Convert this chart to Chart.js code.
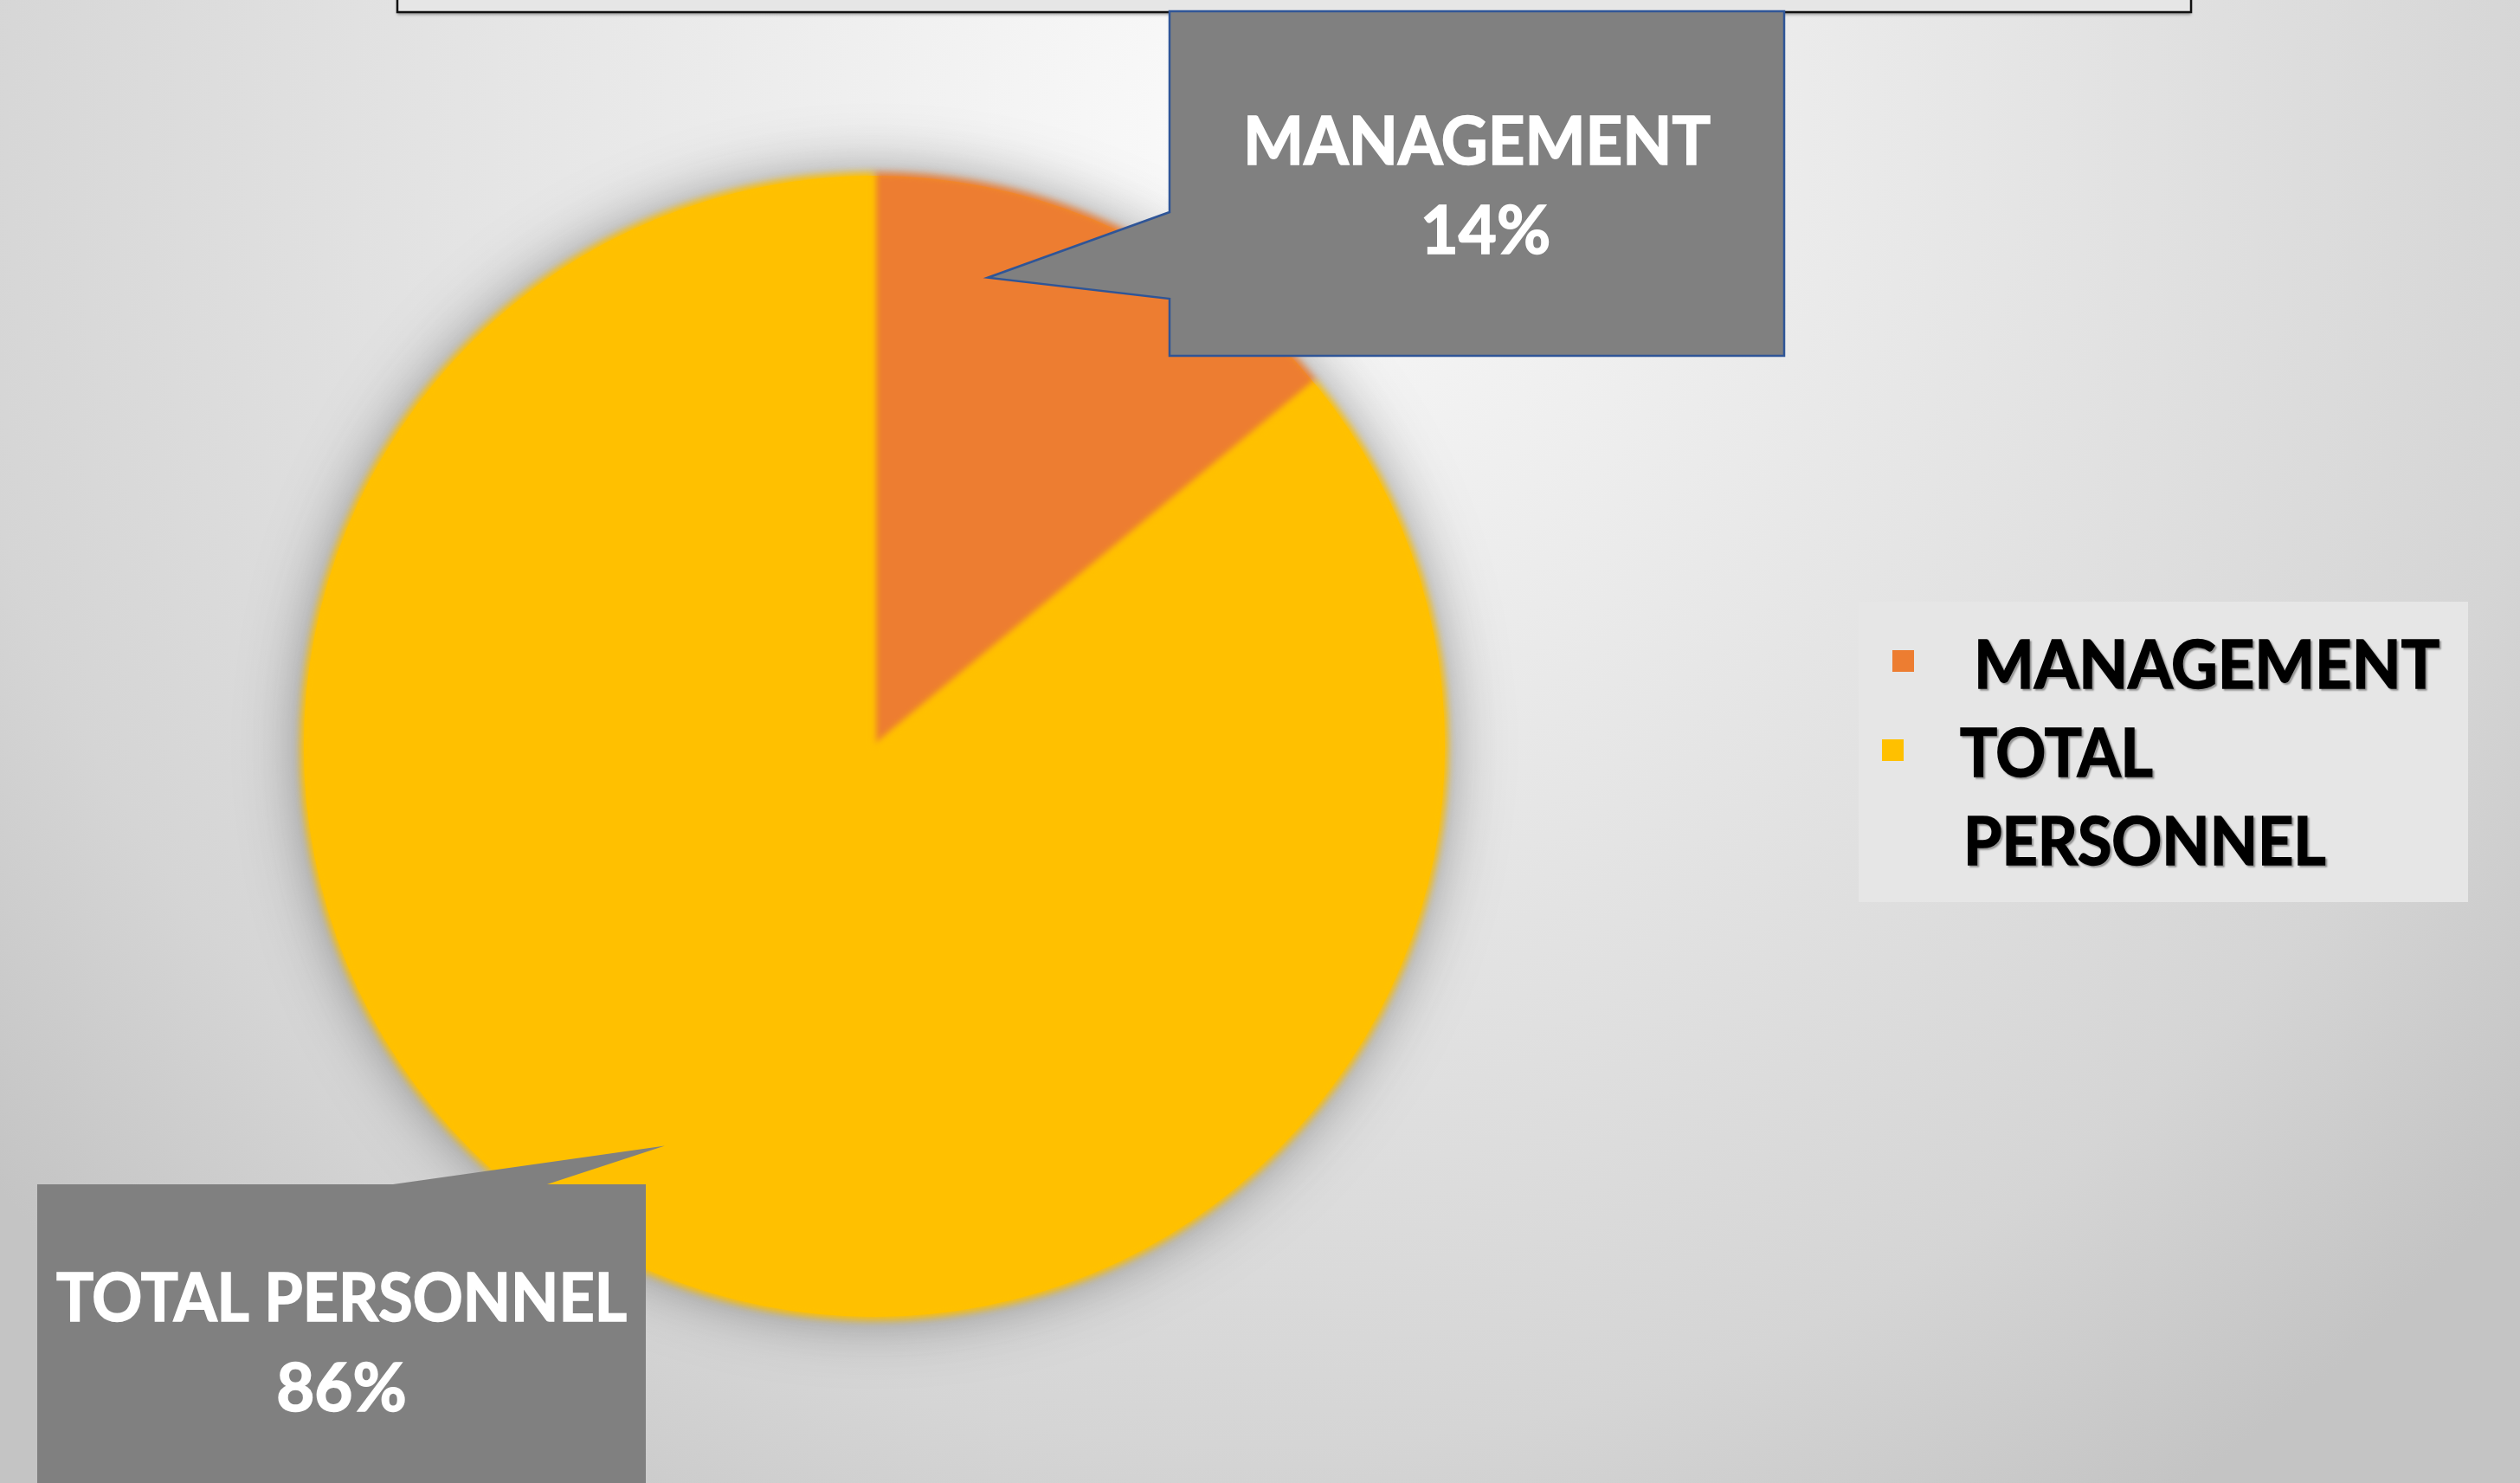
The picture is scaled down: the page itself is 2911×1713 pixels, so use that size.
<!DOCTYPE html>
<html>
<head>
<meta charset="utf-8">
<script src="https://cdn.jsdelivr.net/npm/chart.js@4.4.1/dist/chart.umd.min.js"></script>
<style>
  html, body { margin: 0; padding: 0; background: #d8d8d8; }
  #wrap { width: 2911px; height: 1713px; position: relative; }
</style>
</head>
<body>
<div id="wrap"><canvas id="pie"></canvas></div>
<script>
const labels = ['MANAGEMENT', 'TOTAL PERSONNEL'];
const shares = [14, 86];
const colors = ['#ED7D31', '#FFC000'];

const FONT = 'Lato, "Open Sans", sans-serif';

// callout boxes (layout only) and where on its slice each pointer lands
const callouts = [
    { box: [1351, 13, 2061, 411], base: ['left', 245, 345], angleFrac: 0.27, radFrac: 0.84, border: '#2F5597', lines: [177, 280], pctShift: 10, maxW: 540 },
    { box: [43, 1368, 746, 1760], base: ['top', 454, 632], angleFrac: 0.508, radFrac: 0.786, border: null, lines: [158, 262], pctShift: 0, maxW: 659 }
];

function heavyText(ctx, txt, x, y, maxW) {
    ctx.fillText(txt, x, y, maxW);
    ctx.lineWidth = 1.6;
    ctx.strokeStyle = ctx.fillStyle;
    ctx.strokeText(txt, x, y, maxW);
}

const background = {
    id: 'background',
    beforeDraw(chart) {
        const ctx = chart.ctx;
        const w = chart.width, h = chart.height;
        ctx.save();
        const g = ctx.createRadialGradient(1450, 150, 0, 1450, 150, 1900);
        g.addColorStop(0, '#fbfbfb');
        g.addColorStop(0.25, '#efefef');
        g.addColorStop(0.55, '#e1e1e1');
        g.addColorStop(0.8, '#d5d5d5');
        g.addColorStop(1, '#c4c4c4');
        ctx.fillStyle = g;
        ctx.fillRect(0, 0, w, h);

        // title frame cut off at the top
        ctx.shadowColor = 'rgba(0,0,0,0.35)';
        ctx.shadowOffsetY = 3;
        ctx.shadowBlur = 3;
        ctx.fillStyle = '#e6e6e6';
        ctx.fillRect(459, -10, 2072, 24);
        ctx.shadowColor = 'transparent';
        ctx.strokeStyle = '#111';
        ctx.lineWidth = 2.5;
        ctx.strokeRect(459, -10, 2072, 24);
        ctx.restore();
    }
};

const pieGlow = {
    id: 'pieGlow',
    beforeDatasetsDraw(chart) {
        const arc = chart.getDatasetMeta(0).data[0];
        if (!arc) return;
        const ctx = chart.ctx;
        ctx.save();
        ctx.shadowColor = 'rgba(60,60,60,0.55)';
        ctx.shadowBlur = 70;
        ctx.fillStyle = colors[1];
        ctx.beginPath();
        ctx.arc(arc.x, arc.y, arc.outerRadius - 4, 0, Math.PI * 2);
        ctx.fill();
        ctx.restore();
        ctx.save();
        ctx.filter = 'blur(4px)';
    },
    afterDatasetsDraw(chart) {
        chart.ctx.restore();
    }
};

const calloutPlugin = {
    id: 'callouts',
    afterDatasetsDraw(chart) {
        const ctx = chart.ctx;
        const meta = chart.getDatasetMeta(0);
        const total = shares.reduce((a, b) => a + b, 0);
        callouts.forEach((c, i) => {
            const arc = meta.data[i];
            const a = arc.startAngle + c.angleFrac * (arc.endAngle - arc.startAngle);
            const tx = arc.x + Math.cos(a) * arc.outerRadius * c.radFrac;
            const ty = arc.y + Math.sin(a) * arc.outerRadius * c.radFrac;
            const [x0, y0, x1, y1] = c.box;
            ctx.save();
            ctx.beginPath();
            if (c.base[0] === 'left') {
                ctx.moveTo(x0, y0);
                ctx.lineTo(x0, c.base[1]);
                ctx.lineTo(tx, ty);
                ctx.lineTo(x0, c.base[2]);
                ctx.lineTo(x0, y1);
                ctx.lineTo(x1, y1);
                ctx.lineTo(x1, y0);
            } else {
                ctx.moveTo(x0, y0);
                ctx.lineTo(c.base[1], y0);
                ctx.lineTo(tx, ty);
                ctx.lineTo(c.base[2], y0);
                ctx.lineTo(x1, y0);
                ctx.lineTo(x1, y1);
                ctx.lineTo(x0, y1);
            }
            ctx.closePath();
            ctx.fillStyle = '#808080';
            ctx.fill();
            if (c.border) {
                ctx.strokeStyle = c.border;
                ctx.lineWidth = 2.5;
                ctx.stroke();
            }
            ctx.fillStyle = '#ffffff';
            ctx.font = 'bold 76px ' + FONT;
            ctx.textAlign = 'center';
            ctx.textBaseline = 'alphabetic';
            const cx = (x0 + x1) / 2;
            heavyText(ctx, labels[i], cx, y0 + c.lines[0], c.maxW);
            heavyText(ctx, Math.round(shares[i] / total * 100) + '%', cx + c.pctShift, y0 + c.lines[1], c.maxW);
            ctx.restore();
        });
    }
};

const legendBox = {
    id: 'legendBox',
    afterDraw(chart) {
        const ctx = chart.ctx;
        const bx = 2147, by = 695, bw = 704, bh = 347;
        ctx.save();
        ctx.fillStyle = '#e6e6e6';
        ctx.fillRect(bx, by, bw, bh);
        ctx.font = 'bold 76px ' + FONT;
        ctx.textBaseline = 'alphabetic';
        ctx.textAlign = 'left';
        const rows = [
            { sq: [2186, 751], tx: [2280], base: 795 },
            { sq: [2174, 854], tx: [2264, 2268], base: 897 }
        ];
        labels.forEach((lab, i) => {
            const r = rows[i];
            ctx.fillStyle = colors[i];
            ctx.fillRect(r.sq[0], r.sq[1], 25, 25);
            let lines = [lab];
            if (ctx.measureText(lab).width > bx + bw - r.tx[0] - 20) lines = lab.split(' ');
            ctx.shadowColor = 'rgba(0,0,0,0.3)';
            ctx.shadowOffsetX = 2;
            ctx.shadowOffsetY = 2;
            ctx.shadowBlur = 2;
            ctx.fillStyle = '#000000';
            lines.forEach((ln, k) => {
                const w = ctx.measureText(ln).width;
                const mw = lines.length > 1 ? w * 0.945 : 538;
                heavyText(ctx, ln, r.tx[Math.min(k, r.tx.length - 1)], r.base + k * 102, mw);
            });
            ctx.shadowColor = 'transparent';
        });
        ctx.restore();
    }
};

new Chart(document.getElementById('pie'), {
    type: 'pie',
    data: {
        labels: labels,
        datasets: [{
            data: shares,
            backgroundColor: colors,
            borderWidth: 0
        }]
    },
    options: {
        responsive: true,
        maintainAspectRatio: false,
        animation: false,
        layout: {
            padding: { left: 347, right: 1238, top: 199, bottom: 188 }
        },
        plugins: {
            legend: { display: false },
            tooltip: { enabled: false },
            title: { display: false }
        }
    },
    plugins: [background, pieGlow, calloutPlugin, legendBox]
});
</script>
</body>
</html>
